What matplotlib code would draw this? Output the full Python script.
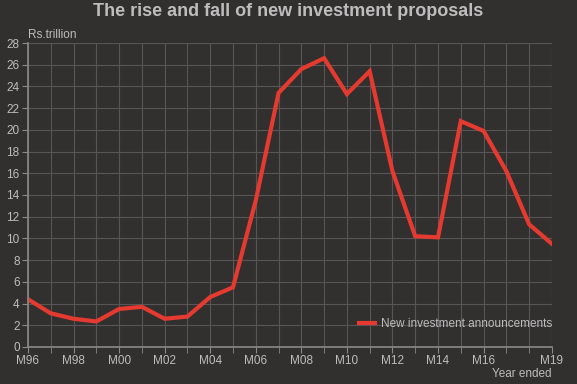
#!/usr/bin/env python3
'''
    Line chart of new investment proposals (Rs. trillion) by year ended.
'''
import matplotlib
matplotlib.use("Agg")
import matplotlib.pyplot as plt

years = ["M96", "M97", "M98", "M99", "M00", "M01", "M02", "M03", "M04", "M05",
         "M06", "M07", "M08", "M09", "M10", "M11", "M12", "M13", "M14", "M15",
         "M16", "M17", "M18", "M19"]
announcements = [4.4, 3.1, 2.6, 2.35, 3.5, 3.7, 2.6, 2.8, 4.6, 5.5,
                 13.5, 23.4, 25.6, 26.6, 23.3, 25.4, 16.2, 10.2, 10.1, 20.8,
                 19.9, 16.2, 11.3, 9.5]
shown_labels = ["M96", "M98", "M00", "M02", "M04", "M06", "M08", "M10",
                "M12", "M14", "M16", "M19"]

BG = "#322f2f"
TEXT = "#bdbdbd"
GRID = "#575555"
RED = "#e53a2f"

plt.rcParams["font.family"] = ["Liberation Sans", "DejaVu Sans"]

fig = plt.figure(figsize=(5.77, 3.84), dpi=100, facecolor=BG)
ax = fig.add_axes([0.0485, 0.0964, 0.908, 0.7916], facecolor=BG)

x = list(range(len(years)))
ax.plot(x, announcements, color=RED, linewidth=3, label="New investment announcements",
        solid_joinstyle="miter")

ax.set_xlim(0, len(years) - 1)
ax.set_ylim(0, 28)
ax.set_yticks(range(0, 29, 2))
ax.set_xticks(x, minor=True)
ax.set_xticks([years.index(l) for l in shown_labels])
ax.set_xticklabels(shown_labels)
ax.grid(True, which="both", color=GRID, linewidth=0.8)
ax.set_axisbelow(True)

for side in ("top", "right"):
    ax.spines[side].set_visible(False)
for side in ("left", "bottom"):
    ax.spines[side].set_color("#8a8888")
    ax.spines[side].set_linewidth(1.2)
ax.tick_params(which="both", colors="#8a8888", labelcolor=TEXT, labelsize=8.5,
               length=4, pad=2)

fig.text(0.5, 0.993, "The rise and fall of new investment proposals", ha="center",
         va="top", fontsize=13, fontweight="bold", color=TEXT)
fig.text(0.049, 0.893, "Rs.trillion", ha="left", va="bottom", fontsize=8.5, color=TEXT)
fig.text(0.956, 0.01, "Year ended", ha="right", va="bottom", fontsize=8.5, color=TEXT)

leg = ax.legend(loc="center right", bbox_to_anchor=(1.0, 0.075), frameon=False,
                fontsize=8.5, handlelength=1.3, handletextpad=0.5,
                borderaxespad=0, borderpad=0)
for t in leg.get_texts():
    t.set_color(TEXT)

fig.savefig("out.png", dpi=100, facecolor=BG)
